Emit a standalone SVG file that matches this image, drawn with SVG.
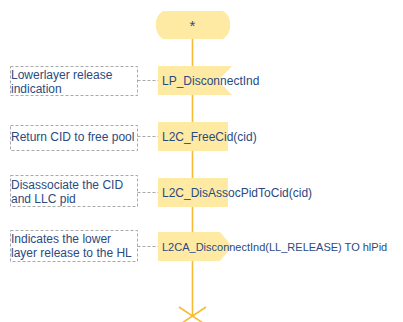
<svg xmlns="http://www.w3.org/2000/svg" width="403" height="322" viewBox="0 0 403 322">
<style>
.node{fill:#feeaa2;stroke:none}
.flow{stroke:#f7bb34;stroke-width:1.6;fill:none}
.cmt{fill:none;stroke:#a9a9a9;stroke-width:1;stroke-dasharray:3,2}
.t{font-family:"Liberation Sans",Arial,sans-serif;font-size:12px;fill:#2b4a80}
</style>
<rect width="403" height="322" fill="#ffffff"/>
<g id="connectors">
<line class="flow" x1="192.5" y1="39" x2="192.5" y2="316"/>
<line class="flow" x1="179" y1="307" x2="206" y2="325"/>
<line class="flow" x1="206" y1="307" x2="179" y2="325"/>
<line class="cmt" x1="137.5" y1="80.5" x2="158" y2="80.5"/>
<line class="cmt" x1="137.5" y1="136.5" x2="158" y2="136.5"/>
<line class="cmt" x1="137.5" y1="192.5" x2="158" y2="192.5"/>
<line class="cmt" x1="137.5" y1="246.5" x2="158" y2="246.5"/>
</g>
<g id="start">
<path class="node" d="M163 11 H223 A14 16 0 0 1 223 39 H163 A14 16 0 0 1 163 11 Z"/>
<text class="t" x="192.5" y="31" text-anchor="middle" style="font-size:15px">*</text>
</g>
<g id="n1">
<path class="node" d="M158 66 H232 L218 80.5 L232 95 H158 Z"/>
<text class="t" x="162" y="85">LP_DisconnectInd</text>
</g>
<g id="c1">
<rect class="cmt" x="10.5" y="66.5" width="127" height="29"/>
<text class="t" x="11" y="79">Lowerlayer release</text>
<text class="t" x="11" y="93">indication</text>
</g>
<g id="n2">
<rect class="node" x="158" y="122" width="70" height="29"/>
<text class="t" x="162" y="141">L2C_FreeCid(cid)</text>
</g>
<g id="c2">
<rect class="cmt" x="10.5" y="125.5" width="127" height="25"/>
<text class="t" x="11" y="141">Return CID to free pool</text>
</g>
<g id="n3">
<rect class="node" x="158" y="178" width="70" height="29"/>
<text class="t" x="162" y="197">L2C_DisAssocPidToCid(cid)</text>
</g>
<g id="c3">
<rect class="cmt" x="10.5" y="175.5" width="127" height="31"/>
<text class="t" x="11" y="189">Disassociate the CID</text>
<text class="t" x="11" y="203">and LLC pid</text>
</g>
<g id="n4">
<path class="node" d="M158 232 H220 L232 246.5 L220 261 H158 Z"/>
<text class="t" x="162" y="251" style="font-size:11px">L2CA_DisconnectInd(LL_RELEASE) TO hlPid</text>
</g>
<g id="c4">
<rect class="cmt" x="10.5" y="230.5" width="127" height="31"/>
<text class="t" x="11" y="243">Indicates the lower</text>
<text class="t" x="11" y="257">layer release to the HL</text>
</g>
</svg>
